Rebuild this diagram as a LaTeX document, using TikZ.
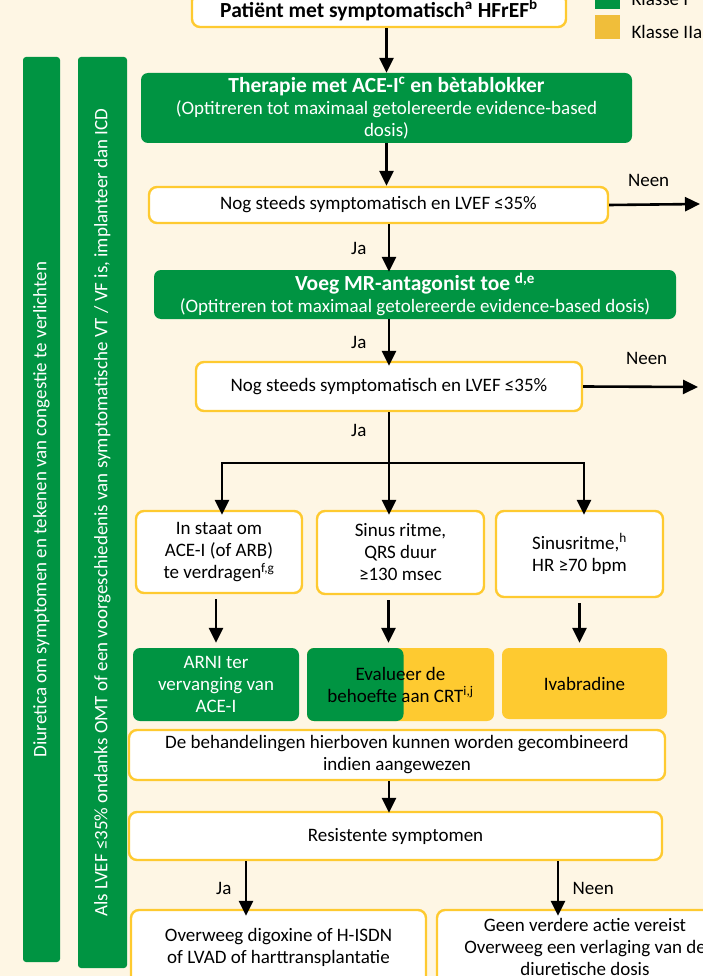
\documentclass[tikz,border=0pt]{standalone}
\usepackage{fontspec}
\setmainfont{Carlito}
\usetikzlibrary{arrows.meta}
\definecolor{klgreen}{RGB}{0,148,66}
\definecolor{klyellow}{RGB}{254,202,48}
\definecolor{klgold}{RGB}{240,190,58}
\definecolor{klcream}{RGB}{254,246,228}
\newcommand{\bigbf}[1]{{\fontsize{21.5}{23}\selectfont\bfseries #1}}

\begin{document}
\begin{tikzpicture}[
    x=1pt, y=-1pt,
    >={Triangle[length=15pt,width=14pt]},
    font=\fontsize{19}{22}\selectfont,
    whitebox/.style={draw=klyellow, line width=2.4pt, fill=white, rounded corners=8pt, align=center, inner sep=2pt},
    greenbox/.style={fill=klgreen, text=white, rounded corners=7pt, align=center, inner sep=2pt},
    yellowbox/.style={fill=klyellow, rounded corners=7pt, align=center, inner sep=2pt},
    greenbar/.style={fill=klgreen, text=white, rounded corners=3pt, rotate=90, inner sep=0pt},
    flow/.style={->, line width=2.6pt},
    gap/.style={shorten <=5pt, shorten >=5pt}
  ]
  \useasboundingbox (0,0) rectangle (703,976);
  \clip (0,0) rectangle (703,976);
  \fill[klcream] (0,0) rectangle (703,976);

  % Legend
  \node[fill=klgreen, minimum width=25, minimum height=26, inner sep=0pt] (legI) at (607.5,-4) {};
  \node[fill=klgold, minimum width=25, minimum height=24, inner sep=0pt] (legIIa) at (607.5,27) {};
  \node[anchor=west] (legItxt) at (628,-1) {Klasse I};
  \node[anchor=west] (legIIatxt) at (628,32) {Klasse IIa};

  % Side bars
  \node[greenbar, minimum width=905, minimum height=37] (bar1) at (41.5,509.5)
    {Diuretica om symptomen en tekenen van congestie te verlichten};
  \node[greenbar, minimum width=911, minimum height=49] (bar2) at (102.5,512.5)
    {Als LVEF ≤35\% ondanks OMT of een voorgeschiedenis van symptomatische VT / VF is, implanteer dan ICD};

  % Blocks
  \node[whitebox, minimum width=374, minimum height=34] (start) at (379,10)
    {\bigbf{Patiënt met symptomatisch\textsuperscript{a} HFrEF\textsuperscript{b}}};
  \node[greenbox, minimum width=491, minimum height=70] (acei) at (386.5,108)
    {\bigbf{Therapie met ACE-I\textsuperscript{c} en bètablokker}\\(Optitreren tot maximaal getolereerde evidence-based\\dosis)};
  \node[whitebox, minimum width=459, minimum height=36] (check1) at (378.5,205)
    {Nog steeds symptomatisch en LVEF ≤35\%};
  \node[greenbox, minimum width=522, minimum height=49] (mra) at (415,294.5)
    {\bigbf{Voeg MR-antagonist toe \textsuperscript{d,e}}\\(Optitreren tot maximaal getolereerde evidence-based dosis)};
  \node[whitebox, minimum width=386, minimum height=49] (check2) at (389,386.5)
    {Nog steeds symptomatisch en LVEF ≤35\%};

  \node[whitebox, minimum width=166, minimum height=82] (tolerant) at (219,552)
    {In staat om\\ACE-I (of ARB)\\te verdragen\textsuperscript{f,g}};
  \node[whitebox, minimum width=167, minimum height=83] (qrs) at (400.5,552.5)
    {Sinus ritme,\\QRS duur\\≥130 msec};
  \node[whitebox, minimum width=167, minimum height=86] (sinus) at (579.5,554)
    {Sinusritme,\textsuperscript{h}\\HR ≥70 bpm};

  \node[greenbox, minimum width=166, minimum height=73] (arni) at (216,684.5)
    {ARNI ter\\vervanging van\\ACE-I};
  \node[yellowbox, minimum width=187, minimum height=73,
        path picture={\fill[klgreen] (path picture bounding box.north west)
          rectangle ([xshift=3pt]path picture bounding box.south);}] (crt) at (400.5,684.5)
    {Evalueer de\\behoefte aan CRT\textsuperscript{i,j}};
  \node[yellowbox, minimum width=165, minimum height=71] (ivab) at (584.5,683.5) {Ivabradine};

  \node[whitebox, minimum width=536, minimum height=50] (combi) at (397,755)
    {De behandelingen hierboven kunnen worden gecombineerd\\indien aangewezen};
  \node[whitebox, minimum width=533, minimum height=48] (resist) at (395.5,836)
    {Resistente symptomen};
  \node[whitebox, minimum width=295, minimum height=74] (digox) at (278.5,947)
    {Overweeg digoxine of H-ISDN\\of LVAD of harttransplantatie};
  \node[whitebox, minimum width=296, minimum height=74] (noact) at (585,947)
    {Geen verdere actie vereist\\Overweeg een verlaging van de\\diuretische dosis};

  % Coordinates
  \coordinate (spine) at (389,0);
  \coordinate (fork) at (389,463);
  \coordinate (forkA) at (222,463);
  \coordinate (forkC) at (584,463);
  \coordinate (out1) at (700,204);
  \coordinate (out2) at (698,387);
  \coordinate (jaX) at (246,0);
  \coordinate (neenX) at (558,0);

  % Connections
  \draw[flow] (acei.north |- start.south) -- (acei.north);
  \draw[flow] (acei.south) -- (acei.south |- check1.north);
  \draw[flow] (spine |- check1.south) -- node[left=18pt]{Ja} ([yshift=-2pt]spine |- mra.north);
  \draw[flow] (check1.east) -- node[above=13pt, xshift=-6pt]{Neen} (out1);
  \draw[flow] (spine |- mra.south) -- node[left=18pt]{Ja} ([yshift=-5pt]spine |- check2.north);
  \draw[flow] (check2.east) -- node[above=17pt, xshift=6pt]{Neen} (out2);
  \draw[line width=2.6pt] (spine |- check2.south) -- node[left=18pt, pos=0.35]{Ja} (fork);
  \draw[line width=2.6pt, line cap=rect] (forkA) -- (forkC);
  \draw[flow] (forkA) -- ([yshift=-5pt]forkA |- tolerant.north);
  \draw[flow] (fork) -- ([yshift=-5pt]fork |- qrs.north);
  \draw[flow] (forkC) -- ([yshift=-5pt]forkC |- sinus.north);
  \draw[flow, gap] (arni.north |- tolerant.south) -- (arni.north);
  \draw[flow, gap] ([xshift=-12pt]qrs.south) -- ([xshift=-12pt]qrs.south |- crt.north);
  \draw[flow, gap] (sinus.south) -- (sinus.south |- ivab.north);
  \draw[flow] (spine |- combi.south) -- ([yshift=-2pt]spine |- resist.north);
  \draw[flow] (jaX |- resist.south) -- node[left=10pt]{Ja} ([yshift=-7pt]jaX |- digox.north);
  \draw[flow] (neenX |- resist.south) -- node[right=10pt]{Neen} ([yshift=-7pt]neenX |- noact.north);
\end{tikzpicture}
\end{document}
